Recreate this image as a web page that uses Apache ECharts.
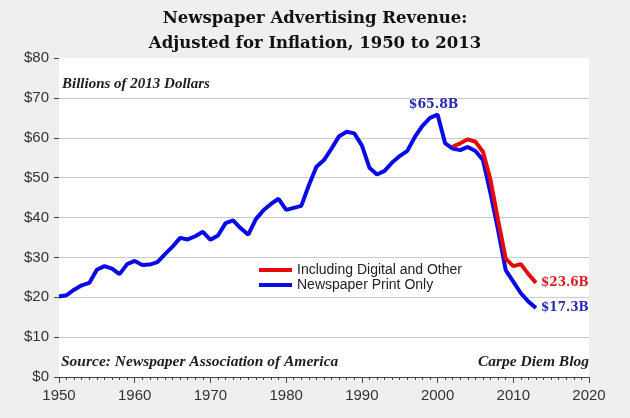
<!doctype html>
<html>
<head>
<meta charset="UTF-8">
<title>Newspaper Advertising Revenue</title>
<script type="text/javascript" src="https://cdn.jsdelivr.net/npm/echarts/dist/echarts.min.js"></script>
<style>
html,body{margin:0;padding:0;background:#efefef;}
#main{width:630px;height:418px;}
</style>
</head>
<body>
<div id="main"></div>
<script type="text/javascript">
// 印刷广告收入（2013年美元，十亿）
var printYears = [1950,1951,1952,1953,1954,1955,1956,1957,1958,1959,
	1960,1961,1962,1963,1964,1965,1966,1967,1968,1969,
	1970,1971,1972,1973,1974,1975,1976,1977,1978,1979,
	1980,1981,1982,1983,1984,1985,1986,1987,1988,1989,
	1990,1991,1992,1993,1994,1995,1996,1997,1998,1999,
	2000,2001,2002,2003,2004,2005,2006,2007,2008,2009,
	2010,2011,2012,2013];
var printOnly = [20.2,20.5,21.9,23.0,23.6,26.9,27.8,27.2,25.8,28.3,
	29.1,28.1,28.2,28.8,30.8,32.7,34.9,34.5,35.3,36.4,
	34.4,35.5,38.6,39.3,37.3,35.7,39.6,41.8,43.4,44.7,
	41.9,42.4,42.9,48.1,52.7,54.4,57.3,60.4,61.5,61.1,
	58.1,52.5,50.8,51.7,53.8,55.4,56.7,60.2,63.0,65.0,
	65.8,58.6,57.3,56.9,57.7,56.7,54.4,46.0,36.8,26.8,
	23.9,21.0,18.9,17.3];
// 含数字及其他
var digitalYears = [2002,2003,2004,2005,2006,2007,2008,2009,2010,2011,2012,2013];
var withDigital = [57.8,58.6,59.6,59.0,56.5,49.4,39.3,29.7,27.8,28.3,25.8,23.6];

var yTicks = [0,10,20,30,40,50,60,70,80];
var xTicks = [1950,1960,1970,1980,1990,2000,2010,2020];

var pairs = function (xs, ys) {
	var out = [];
	for (var i = 0; i < xs.length; i++) {
		out.push([xs[i], ys[i]]);
	}
	return out;
};

var peakIdx = 0;
for (var i = 1; i < printOnly.length; i++) {
	if (printOnly[i] > printOnly[peakIdx]) peakIdx = i;
}

var noteStyle = {fontFamily: 'Liberation Serif', fontWeight: 'bold', fontStyle: 'italic', fontSize: 15.5, fill: '#1e1e1e'};

var chart = echarts.init(document.getElementById('main'));
var option = {
	backgroundColor: '#efefef',
	animation: false,
	title: {
		text: 'Newspaper Advertising Revenue:\nAdjusted for Inflation, 1950 to 2013',
		left: 'center',
		top: 1,
		textStyle: {
			fontFamily: 'DejaVu Serif',
			fontWeight: 'bold',
			fontSize: 16.5,
			lineHeight: 25,
			color: '#111'
		}
	},
	grid: {
		show: true,
		backgroundColor: '#ffffff',
		borderWidth: 0,
		left: 59,
		right: 41,
		top: 58,
		bottom: 41
	},
	legend: {
		orient: 'vertical',
		left: 254,
		top: 258,
		icon: 'rect',
		itemWidth: 33,
		itemHeight: 4,
		itemGap: 1,
		textStyle: {fontFamily: 'Liberation Sans', fontSize: 14, color: '#222'},
		data: ['Including Digital and Other', 'Newspaper Print Only']
	},
	xAxis: {
		type: 'value',
		min: xTicks[0],
		max: xTicks[xTicks.length - 1],
		interval: 10,
		axisLine: {show: true, lineStyle: {color: '#444', width: 1}},
		axisTick: {show: true, length: 6, lineStyle: {color: '#444'}},
		minorTick: {show: true, splitNumber: 10, length: 3, lineStyle: {color: '#444'}},
		splitLine: {show: false},
		axisLabel: {
			margin: 11,
			fontFamily: 'Liberation Sans',
			fontSize: 15,
			color: '#333',
			formatter: function (v) { return String(v); }
		}
	},
	yAxis: {
		type: 'value',
		min: yTicks[0],
		max: yTicks[yTicks.length - 1],
		interval: 10,
		axisLine: {show: false},
		axisTick: {show: true, length: 5, lineStyle: {color: '#444'}},
		splitLine: {show: true, showMinLine: false, showMaxLine: false, lineStyle: {color: '#cccccc', width: 1}},
		axisLabel: {
			margin: 10,
			fontFamily: 'Liberation Sans',
			fontSize: 15,
			color: '#333',
			formatter: function (v) { return '$' + v; }
		}
	},
	graphic: [
		{type: 'text', left: 62, top: 77, style: Object.assign({text: 'Billions of 2013 Dollars'}, noteStyle, {fontSize: 15})},
		{type: 'text', left: 61, top: 354, style: Object.assign({text: 'Source: Newspaper Association of America'}, noteStyle)},
		{type: 'text', right: 41, top: 354, style: Object.assign({text: 'Carpe Diem Blog'}, noteStyle)}
	],
	series: [
		{
			name: 'Newspaper Print Only',
			type: 'line',
			data: pairs(printYears, printOnly),
			showSymbol: false,
			symbol: 'none',
			lineStyle: {color: '#0a0ae6', width: 4},
			itemStyle: {color: '#0a0ae6'},
			endLabel: {
				show: true,
				distance: 5,
				color: '#2a2ab0',
				fontFamily: 'DejaVu Serif',
				fontWeight: 'bold',
				fontSize: 12,
				formatter: function (p) { return '$' + p.value[1].toFixed(1) + 'B'; }
			},
			markPoint: {
				symbol: 'circle',
				symbolSize: 0,
				data: [{coord: [printYears[peakIdx], printOnly[peakIdx]], value: printOnly[peakIdx]}],
				label: {
					show: true,
					position: 'top',
					distance: 3,
					offset: [-4, 0],
					color: '#2a2ab0',
					fontFamily: 'DejaVu Serif',
					fontWeight: 'bold',
					fontSize: 12.5,
					formatter: function (p) { return '$' + p.value.toFixed(1) + 'B'; }
				}
			}
		},
		{
			name: 'Including Digital and Other',
			type: 'line',
			data: pairs(digitalYears, withDigital),
			showSymbol: false,
			symbol: 'none',
			lineStyle: {color: '#e60a0a', width: 4},
			itemStyle: {color: '#e60a0a'},
			endLabel: {
				show: true,
				distance: 5,
				color: '#d41e1e',
				fontFamily: 'DejaVu Serif',
				fontWeight: 'bold',
				fontSize: 12,
				formatter: function (p) { return '$' + p.value[1].toFixed(1) + 'B'; }
			}
		}
	]
};
chart.setOption(option);
</script>
</body>
</html>
